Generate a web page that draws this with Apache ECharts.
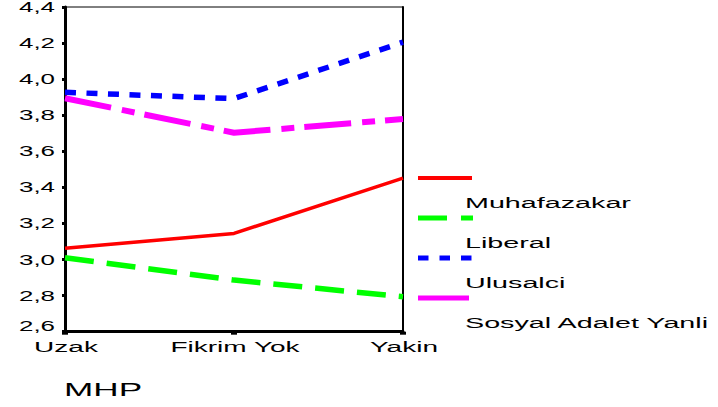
<!DOCTYPE html>
<html>
<head>
<meta charset="utf-8">
<script src="https://cdn.jsdelivr.net/npm/echarts@6/dist/echarts.min.js"></script>
<style>
  html, body { margin: 0; padding: 0; background: #fff; }
  #chart { width: 718px; height: 407px; }
</style>
</head>
<body>
<div id="chart"></div>
<script>
const categories = ['Uzak', 'Fikrim Yok', 'Yakin'];
const seriesNames = ['Muhafazakar', 'Liberal', 'Ulusalci', 'Sosyal Adalet Yanli'];
const muhafazakar = [3.062, 3.145, 3.451];
const liberal = [3.010, 2.886, 2.794];
const ulusalci = [3.927, 3.892, 4.205];
const sosyalAdalet = [3.894, 3.703, 3.779];
const yMin = 2.6, yMax = 4.4, yStep = 0.2;
const axisTitle = 'MHP';

const FONT = 'Liberation Sans';
const chart = echarts.init(document.getElementById('chart'), null, { renderer: 'svg' });

const option = {
  animation: false,
  backgroundColor: '#fff',
  grid: { left: 65, right: 315, top: 6.5, bottom: 75.3, show: true, borderColor: '#000', borderWidth: 1 },
  xAxis: {
    type: 'category',
    data: categories,
    boundaryGap: false,
    axisLine: { lineStyle: { color: '#000', width: 3 } },
    axisTick: { alignWithLabel: true, length: 3, lineStyle: { color: '#000', width: 6 } },
    axisLabel: { color: '#000', fontFamily: FONT, fontSize: 14, margin: 8, padding: [0, 0, 0, 2] },
    splitLine: { show: false }
  },
  yAxis: [{
    type: 'value',
    min: yMin, max: yMax, interval: yStep,
    axisLine: { show: true, lineStyle: { color: '#000', width: 3 } },
    axisTick: { show: true, length: 3, lineStyle: { color: '#000', width: 3 } },
    axisLabel: {
      color: '#000', fontFamily: FONT, fontSize: 14, margin: 10, lineHeight: 12,
      verticalAlignMinLabel: 'bottom',
      formatter: v => v.toFixed(1).replace('.', ',')
    },
    splitLine: { show: false }
  }, {
    type: 'value', position: 'right',
    min: yMin, max: yMax, interval: yStep,
    axisLine: { show: true, lineStyle: { color: '#000', width: 2 } },
    axisTick: { show: false }, axisLabel: { show: false }, splitLine: { show: false }
  }],
  legend: {
    orient: 'vertical', left: 418, top: 176, padding: 0, itemGap: -15,
    itemWidth: 55, itemHeight: 55, selectedMode: false,
    textStyle: { color: '#000', fontFamily: FONT, fontSize: 14, padding: [0, 0, 0, -13] },
    data: [
      { name: seriesNames[0], icon: 'path://M0 0.5H54V4.5H0Z M55 55L55 55.01Z' },
      { name: seriesNames[1], icon: 'path://M0 0H29V5H0Z M43 0H55V5H43Z M55 55L55 55.01Z' },
      { name: seriesNames[2], icon: 'path://M0 0H10.5V5H0Z M21.5 0H32V5H21.5Z M43 0H53.5V5H43Z M55 55L55 55.01Z' },
      { name: seriesNames[3], icon: 'path://M0 0H51V5H0Z M55 55L55 55.01Z' }
    ]
  },
  graphic: [{
    type: 'text', left: 64, top: 380, scaleX: 1.85,
    style: { text: axisTitle, fill: '#000', font: '19px "Liberation Sans"' }
  }],
  series: [
    { name: seriesNames[0], type: 'line', data: muhafazakar, color: '#ff0000', showSymbol: false,
      lineStyle: { color: '#ff0000', width: 3.5, type: 'solid' } },
    { name: seriesNames[1], type: 'line', data: liberal, color: '#00ff00', showSymbol: false,
      lineStyle: { color: '#00ff00', width: 5.5, type: [29, 13] } },
    { name: seriesNames[2], type: 'line', data: ulusalci, color: '#0000ff', showSymbol: false,
      lineStyle: { color: '#0000ff', width: 5.5, type: [11, 10.5] } },
    { name: seriesNames[3], type: 'line', data: sosyalAdalet, color: '#ff00ff', showSymbol: false,
      lineStyle: { color: '#ff00ff', width: 6, type: [47, 11, 13, 10] } }
  ]
};

// widen the 14px texts horizontally (the reference font is drawn stretched)
function stretchTexts() {
  document.querySelectorAll('#chart svg text').forEach(t => {
    if (t.getAttribute('data-stretched')) return;
    const fs = parseFloat(getComputedStyle(t).fontSize);
    if (Math.abs(fs - 14) > 0.1) return;
    const len = t.getComputedTextLength();
    if (!len) return;
    const anchor = t.getAttribute('text-anchor');
    const factor = anchor === 'end' ? 1.85 : (anchor === 'start' ? 2.05 : 2);
    t.setAttribute('textLength', (len * factor).toFixed(2));
    t.setAttribute('lengthAdjust', 'spacingAndGlyphs');
    t.setAttribute('data-stretched', '1');
  });
}
chart.on('finished', stretchTexts);
chart.setOption(option);
stretchTexts();
setTimeout(stretchTexts, 0);
requestAnimationFrame(stretchTexts);
</script>
</body>
</html>
